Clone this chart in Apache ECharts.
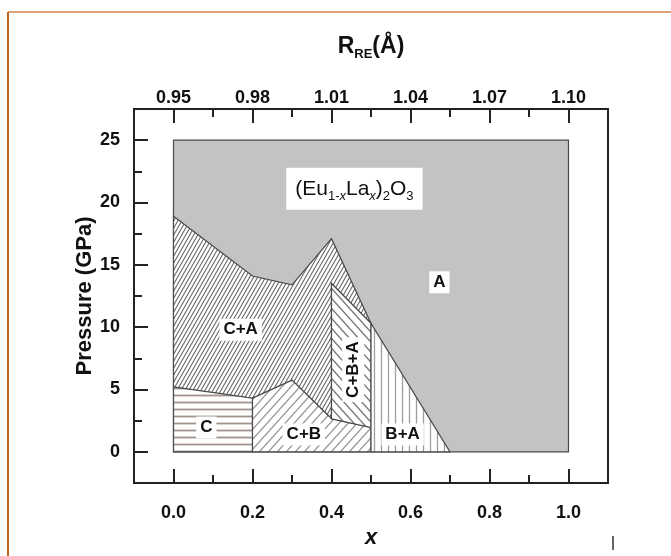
<!DOCTYPE html>
<html>
<head>
<meta charset="utf-8">
<script src="https://cdn.jsdelivr.net/npm/echarts@6/dist/echarts.min.js"></script>
<style>
  html, body { margin: 0; padding: 0; background: #fff; }
  #chart { width: 671px; height: 556px; }
</style>
</head>
<body>
<div id="chart"></div>
<script>
// tick values and labels
const xTicks = [0, 0.2, 0.4, 0.6, 0.8, 1.0]
const xMinorTicks = [0.1, 0.3, 0.5, 0.7, 0.9]
const xTickLabels = ['0.0', '0.2', '0.4', '0.6', '0.8', '1.0']
const rTickLabels = ['0.95', '0.98', '1.01', '1.04', '1.07', '1.10']
const yTicks = [0, 5, 10, 15, 20, 25]
const yMinorTicks = [2.5, 7.5, 12.5, 17.5, 22.5]

// phase regions, vertices as [x, pressure]
const phaseA = [[0, 0], [1, 0], [1, 25], [0, 25]]
const phaseCA = [[0, 5.2], [0, 18.9], [0.2, 14.1], [0.3, 13.4], [0.4, 17.1], [0.5, 10.3],
  [0.4, 13.5], [0.4, 2.65], [0.3, 5.75], [0.2, 4.3]]
const phaseC = [[0, 0], [0.2, 0], [0.2, 4.3], [0, 5.2]]
const phaseCB = [[0.2, 0], [0.5, 0], [0.5, 1.95], [0.4, 2.65], [0.3, 5.75], [0.2, 4.3]]
const phaseCBA = [[0.4, 2.65], [0.5, 1.95], [0.5, 10.3], [0.4, 13.5]]
const phaseBA = [[0.5, 0], [0.7, 0], [0.5, 10.3]]

// region labels [x, pressure, text]
const phaseLabels = [
  [0.17, 9.8, 'C+A'],
  [0.083, 1.95, 'C'],
  [0.33, 1.4, 'C+B'],
  [0.58, 1.4, 'B+A'],
  [0.455, 6.6, 'C+B+A'],
  [0.673, 13.6, 'A']
]
const formulaPos = [0.458, 21.1]

const FONT = '"Liberation Sans", Arial, sans-serif'

// hatch pattern tiles
function hatch(dir, w, h, color, lw) {
  const c = document.createElement('canvas')
  c.width = w
  c.height = h
  const ctx = c.getContext('2d')
  ctx.fillStyle = '#fff'
  ctx.fillRect(0, 0, w, h)
  ctx.strokeStyle = color
  ctx.lineWidth = lw
  ctx.beginPath()
  if (dir === 'h') {
    ctx.moveTo(0, h / 2); ctx.lineTo(w, h / 2)
  } else if (dir === 'v') {
    ctx.moveTo(w / 2, 0); ctx.lineTo(w / 2, h)
  } else {
    for (const dx of [-w, 0, w]) {
      if (dir === '/') {
        ctx.moveTo(dx - w, 2 * h); ctx.lineTo(dx + 2 * w, -h)
      } else {
        ctx.moveTo(dx - w, -h); ctx.lineTo(dx + 2 * w, 2 * h)
      }
    }
  }
  ctx.stroke()
  return { image: c, repeat: 'repeat' }
}

const regions = [
  { pts: phaseA, fill: '#c3c3c3' },
  { pts: phaseCA, fill: hatch('/', 4, 7, '#666262', 1.1) },
  { pts: phaseC, fill: hatch('h', 8, 7, '#a0948f', 1.8) },
  { pts: phaseCB, fill: hatch('/', 9, 10, '#9a9390', 1.2) },
  { pts: phaseCBA, fill: hatch('\\', 9, 10, '#7d7674', 1.4) },
  { pts: phaseBA, fill: hatch('v', 7, 8, '#a39c99', 1.3) }
]

const regionSeries = regions.map(r => ({
  type: 'custom',
  xAxisIndex: 0,
  yAxisIndex: 0,
  silent: true,
  data: r.pts,
  renderItem(params, api) {
    if (params.dataIndex !== 0) return
    return {
      type: 'polygon',
      shape: { points: r.pts.map(p => api.coord(p)) },
      style: { fill: r.fill, stroke: '#4a4a4a', lineWidth: 1.2 }
    }
  }
}))

function pick(list, labels, v) {
  const i = list.findIndex(t => Math.abs(t - v) < 1e-9)
  return i < 0 ? '' : labels[i]
}

const tickLine = { color: '#222', width: 2 }
const labelStyle = { fontFamily: FONT, fontWeight: 'bold', fontSize: 18, color: '#111' }

const chart = echarts.init(document.getElementById('chart'))
chart.setOption({
  animation: false,
  backgroundColor: '#fff',
  grid: { left: 134, right: 63, top: 109, bottom: 73, show: true, borderColor: '#222', borderWidth: 2 },
  xAxis: [
    {
      type: 'value', position: 'bottom', min: -0.1, max: 1.1,
      axisLine: { show: true, onZero: false, lineStyle: tickLine },
      axisTick: { show: true, inside: true, length: 14, lineStyle: tickLine, customValues: xTicks },
      axisLabel: Object.assign({ customValues: xTicks, margin: 21, formatter: v => pick(xTicks, xTickLabels, v) }, labelStyle),
      splitLine: { show: false },
      name: 'x', nameLocation: 'middle', nameGap: 44,
      nameTextStyle: { fontFamily: FONT, fontWeight: 'bold', fontStyle: 'italic', fontSize: 22, color: '#111' }
    },
    {
      type: 'value', position: 'bottom', min: -0.1, max: 1.1,
      axisLine: { show: false, onZero: false },
      axisTick: { show: true, inside: true, length: 8, lineStyle: tickLine, customValues: xMinorTicks },
      axisLabel: { show: false },
      splitLine: { show: false }
    },
    {
      type: 'value', position: 'top', min: -0.1, max: 1.1,
      axisLine: { show: true, onZero: false, lineStyle: tickLine },
      axisTick: { show: true, inside: true, length: 14, lineStyle: tickLine, customValues: xTicks },
      axisLabel: Object.assign({ customValues: xTicks, margin: 2, formatter: v => pick(xTicks, rTickLabels, v) }, labelStyle),
      splitLine: { show: false },
      name: 'R{sub|RE}(Å)', nameLocation: 'middle', nameGap: 48,
      nameTextStyle: {
        fontFamily: FONT, fontWeight: 'bold', fontSize: 23, color: '#111', lineHeight: 28,
        rich: { sub: { fontFamily: FONT, fontWeight: 'bold', fontSize: 13, color: '#111', verticalAlign: 'bottom', lineHeight: 13 } }
      }
    },
    {
      type: 'value', position: 'top', min: -0.1, max: 1.1,
      axisLine: { show: false, onZero: false },
      axisTick: { show: true, inside: true, length: 8, lineStyle: tickLine, customValues: xMinorTicks },
      axisLabel: { show: false },
      splitLine: { show: false }
    }
  ],
  yAxis: [
    {
      type: 'value', position: 'left', min: -2.5, max: 27.5,
      axisLine: { show: true, onZero: false, lineStyle: tickLine },
      axisTick: { show: true, inside: true, length: 14, lineStyle: tickLine, customValues: yTicks },
      axisLabel: Object.assign({ customValues: yTicks, margin: 14 }, labelStyle),
      splitLine: { show: false },
      name: 'Pressure (GPa)', nameLocation: 'middle', nameGap: 38, nameMoveOverlap: false,
      nameTextStyle: { fontFamily: FONT, fontWeight: 'bold', fontSize: 22, color: '#111' }
    },
    {
      type: 'value', position: 'left', min: -2.5, max: 27.5,
      axisLine: { show: false, onZero: false },
      axisTick: { show: true, inside: true, length: 8, lineStyle: tickLine, customValues: yMinorTicks },
      axisLabel: { show: false },
      splitLine: { show: false }
    }
  ],
  series: regionSeries.concat([
    {
      type: 'scatter',
      xAxisIndex: 0, yAxisIndex: 0,
      symbolSize: 0,
      silent: true,
      itemStyle: { opacity: 1 },
      data: phaseLabels.map(d => ({
        value: [d[0], d[1]],
        name: d[2],
        label: { rotate: d[2] === 'C+B+A' ? 90 : 0 }
      })),
      label: {
        show: true, position: 'inside', formatter: p => p.name,
        fontFamily: FONT, fontWeight: 'bold', fontSize: 17, color: '#111',
        backgroundColor: '#fff', padding: [3, 4, 2, 4]
      }
    },
    {
      type: 'scatter',
      xAxisIndex: 0, yAxisIndex: 0,
      symbolSize: 0,
      silent: true,
      itemStyle: { opacity: 1 },
      data: [formulaPos],
      label: {
        show: true, position: 'inside',
        formatter: '(Eu{sub|1-}{subi|x}La{subi|x}){sub|2}O{sub|3}',
        fontFamily: FONT, fontSize: 21, color: '#111', lineHeight: 28,
        backgroundColor: '#fff', padding: [7, 9, 7, 9],
        rich: {
          sub: { fontFamily: FONT, fontSize: 13, color: '#111', verticalAlign: 'bottom', lineHeight: 13 },
          subi: { fontFamily: FONT, fontSize: 13, fontStyle: 'italic', color: '#111', verticalAlign: 'bottom', lineHeight: 13 }
        }
      }
    }
  ]),
  graphic: [
    { type: 'line', silent: true, shape: { x1: 8, y1: 12, x2: 671, y2: 12 }, style: { stroke: '#dfa47c', lineWidth: 2 } },
    { type: 'line', silent: true, shape: { x1: 8, y1: 12, x2: 8, y2: 556 }, style: { stroke: '#c8661f', lineWidth: 2 } },
    { type: 'line', silent: true, shape: { x1: 613, y1: 536, x2: 613, y2: 550 }, style: { stroke: '#333', lineWidth: 1.5 } }
  ]
})
</script>
</body>
</html>
